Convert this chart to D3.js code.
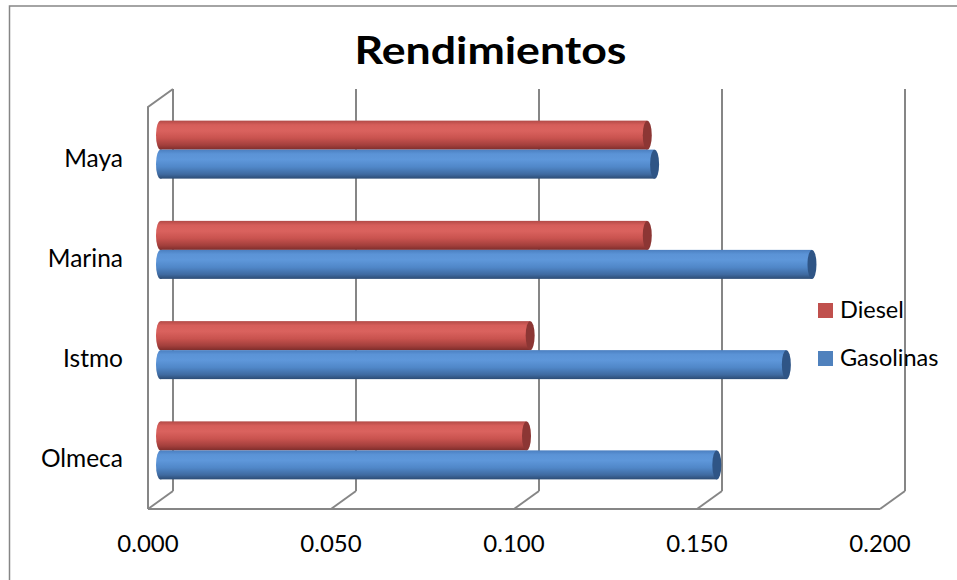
<!DOCTYPE html>
<html>
<head>
<meta charset="utf-8">
<script src="https://cdn.jsdelivr.net/npm/d3@7/dist/d3.min.js"></script>
<style>
  html, body { margin: 0; padding: 0; background: #fff; }
  svg { display: block; }
  text { font-family: Lato, "Open Sans", sans-serif; fill: #000; }
</style>
</head>
<body>
<svg id="chart" width="957" height="580"></svg>
<script>
// ---- data ----
const categories = ["Maya", "Marina", "Istmo", "Olmeca"];
const seriesNames = ["Diesel", "Gasolinas"];
const diesel = [0.133, 0.133, 0.101, 0.100];
const gasolinas = [0.135, 0.178, 0.171, 0.152];
const tickValues = [0, 0.05, 0.1, 0.15, 0.2];
const tickLabels = ["0.000", "0.050", "0.100", "0.150", "0.200"];
const titleText = "Rendimientos";

const values = { Diesel: diesel, Gasolinas: gasolinas };

const svg = d3.select("#chart");

// outer border (right/bottom edges fall outside the frame)
svg.append("rect").attr("x", 9.5).attr("y", 6).attr("width", 960).attr("height", 590)
  .attr("fill", "none").attr("stroke", "#868686").attr("stroke-width", 1.5);

// 3D geometry
const frontLeft = 148, frontRight = 880, floorFront = 509, topFront = 107;
const depthX = 25, depthY = -18;

const xFront = d3.scaleLinear().domain([0, 0.2]).range([frontLeft, frontRight]);
const xBack = d3.scaleLinear().domain([0, 0.2]).range([frontLeft + depthX, frontRight + depthX]);
const xMid = d3.scaleLinear().domain([0, 0.2]).range([frontLeft + depthX / 2, frontRight + depthX / 2]);

const y = d3.scaleBand().domain(categories).range([99.5, 500.5]).paddingInner(0).paddingOuter(0);
const yInner = d3.scaleBand().domain(seriesNames).range([0, 58]);

const colors = {
  Diesel: { stops: ["#b24a47", "#d65e5a", "#da625e", "#c9534f", "#a23f3c", "#7e2d2b"], cap: "#8c3634" },
  Gasolinas: { stops: ["#4b7fc0", "#5b93d6", "#5e97da", "#5087c8", "#3f6aa0", "#2d4c74"], cap: "#2f5586" }
};

const defs = svg.append("defs");
seriesNames.forEach(s => {
  const g = defs.append("linearGradient").attr("id", "grad-" + s)
    .attr("x1", 0).attr("y1", 0).attr("x2", 0).attr("y2", 1);
  const offs = [0, 0.15, 0.35, 0.6, 0.85, 1];
  colors[s].stops.forEach((c, i) => g.append("stop").attr("offset", offs[i]).attr("stop-color", c));
});

const grid = "#868686";
const gl = svg.append("g").attr("stroke", grid).attr("stroke-width", 2).attr("fill", "none");

// back wall gridlines
gl.selectAll("line.back").data(tickValues).join("line")
  .attr("x1", d => xBack(d)).attr("x2", d => xBack(d))
  .attr("y1", topFront + depthY).attr("y2", floorFront + depthY);
// floor diagonals
gl.selectAll("line.diag").data(tickValues).join("line")
  .attr("x1", d => xFront(d)).attr("y1", floorFront)
  .attr("x2", d => xBack(d)).attr("y2", floorFront + depthY);
// floor front edge
gl.append("line").attr("x1", xFront(0)).attr("x2", xFront(0.2))
  .attr("y1", floorFront).attr("y2", floorFront);
// left wall front edge and top
gl.append("path").attr("d", `M${xFront(0)},${floorFront} L${xFront(0)},${topFront} L${xBack(0)},${topFront + depthY}`);

// bars (cylinders)
const capRx = 4.5;
const barsG = svg.append("g");
categories.forEach((cat, ci) => {
  seriesNames.forEach(s => {
    const v = values[s][ci];
    const y0 = y(cat) + (y.bandwidth() - 58) / 2 + yInner(s);
    const h = yInner.bandwidth();
    const x0 = xMid(0), x1 = xMid(v);
    const g = barsG.append("g");
    g.append("rect").attr("x", x0).attr("y", y0).attr("width", x1 - x0).attr("height", h)
      .attr("fill", `url(#grad-${s})`);
    g.append("ellipse").attr("cx", x0).attr("cy", y0 + h / 2).attr("rx", capRx).attr("ry", h / 2)
      .attr("fill", `url(#grad-${s})`);
    g.append("ellipse").attr("cx", x1).attr("cy", y0 + h / 2).attr("rx", capRx).attr("ry", h / 2)
      .attr("fill", colors[s].cap);
  });
});

// category labels
svg.append("g").selectAll("text").data(categories).join("text")
  .attr("x", 123).attr("y", d => y(d) + y.bandwidth() / 2 + 17)
  .attr("text-anchor", "end").attr("font-size", 24.5).text(d => d);

// tick labels
svg.append("g").selectAll("text").data(tickValues).join("text")
  .attr("x", d => xFront(d)).attr("y", 552)
  .attr("text-anchor", "middle").attr("font-size", 24)
  .text((d, i) => tickLabels[i]);

// title
svg.append("text").attr("x", 490.5).attr("y", 64).attr("text-anchor", "middle")
  .attr("font-size", 38).attr("font-weight", "bold")
  .attr("textLength", 272).attr("lengthAdjust", "spacingAndGlyphs")
  .text(titleText);

// legend
const legend = svg.append("g");
const legendColors = { Diesel: "#c0504d", Gasolinas: "#4f81bd" };
seriesNames.forEach((s, i) => {
  const ly = 303 + i * 48;
  legend.append("rect").attr("x", 818).attr("y", ly).attr("width", 15).attr("height", 15)
    .attr("fill", legendColors[s]);
  legend.append("text").attr("x", 840).attr("y", ly + 15).attr("font-size", 23.5).text(s);
});
</script>
</body>
</html>
